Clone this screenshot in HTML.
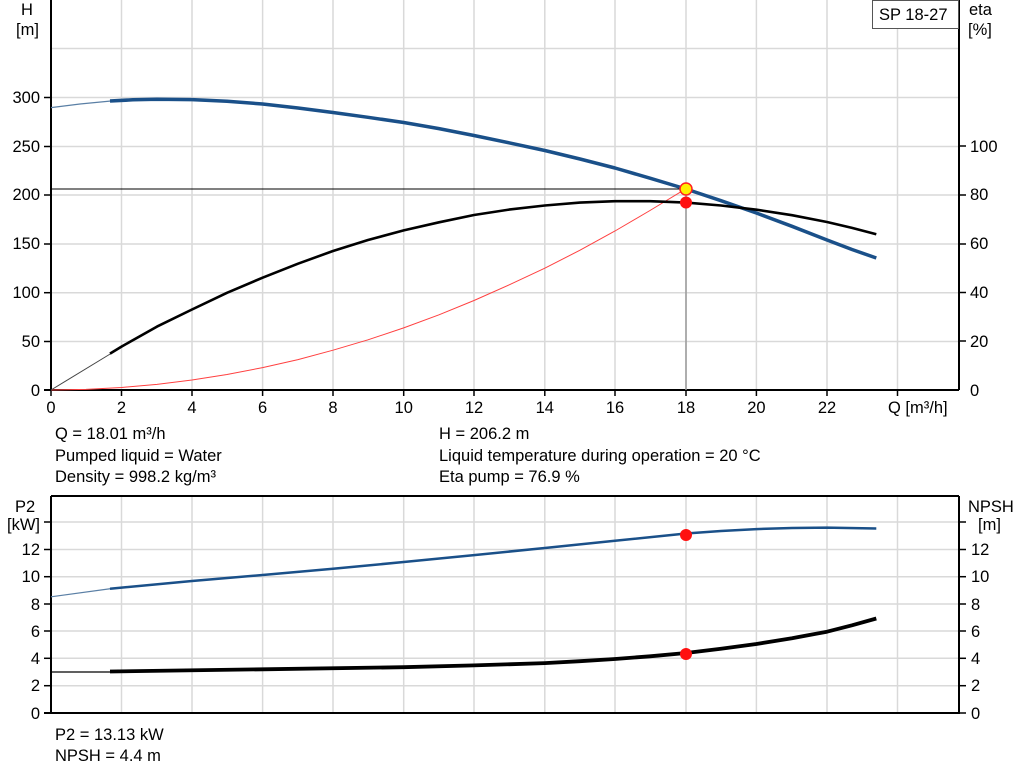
<!DOCTYPE html>
<html><head><meta charset="utf-8"><style>
html,body{margin:0;padding:0;background:#fff;}
svg{display:block;font-family:"Liberation Sans",Arial,sans-serif;}
text{font-size:16.5px;fill:#000;}
</style></head><body>
<svg width="1024" height="781" viewBox="0 0 1024 781" xmlns="http://www.w3.org/2000/svg">
<g stroke="#d9d9d9" stroke-width="1.5">
<line x1="121.5" y1="0" x2="121.5" y2="390"/><line x1="192" y1="0" x2="192" y2="390"/><line x1="262.6" y1="0" x2="262.6" y2="390"/><line x1="333" y1="0" x2="333" y2="390"/><line x1="403.7" y1="0" x2="403.7" y2="390"/><line x1="474" y1="0" x2="474" y2="390"/><line x1="544.8" y1="0" x2="544.8" y2="390"/><line x1="615" y1="0" x2="615" y2="390"/><line x1="686" y1="0" x2="686" y2="390"/><line x1="756.4" y1="0" x2="756.4" y2="390"/><line x1="827" y1="0" x2="827" y2="390"/><line x1="897.5" y1="0" x2="897.5" y2="390"/>
<line x1="51" y1="48.5" x2="959" y2="48.5"/><line x1="51" y1="97.5" x2="959" y2="97.5"/><line x1="51" y1="146.5" x2="959" y2="146.5"/><line x1="51" y1="195" x2="959" y2="195"/><line x1="51" y1="244" x2="959" y2="244"/><line x1="51" y1="292.7" x2="959" y2="292.7"/><line x1="51" y1="341.5" x2="959" y2="341.5"/>
<line x1="121.5" y1="496" x2="121.5" y2="713"/><line x1="192" y1="496" x2="192" y2="713"/><line x1="262.6" y1="496" x2="262.6" y2="713"/><line x1="333" y1="496" x2="333" y2="713"/><line x1="403.7" y1="496" x2="403.7" y2="713"/><line x1="474" y1="496" x2="474" y2="713"/><line x1="544.8" y1="496" x2="544.8" y2="713"/><line x1="615" y1="496" x2="615" y2="713"/><line x1="686" y1="496" x2="686" y2="713"/><line x1="756.4" y1="496" x2="756.4" y2="713"/><line x1="827" y1="496" x2="827" y2="713"/><line x1="897.5" y1="496" x2="897.5" y2="713"/>
<line x1="51" y1="522" x2="959" y2="522"/><line x1="51" y1="549.5" x2="959" y2="549.5"/><line x1="51" y1="576.7" x2="959" y2="576.7"/><line x1="51" y1="604" x2="959" y2="604"/><line x1="51" y1="631" x2="959" y2="631"/><line x1="51" y1="658.3" x2="959" y2="658.3"/><line x1="51" y1="685.7" x2="959" y2="685.7"/>
</g>
<g stroke="#000" stroke-width="2" fill="none">
<line x1="51" y1="0" x2="51" y2="390"/><line x1="959" y1="0" x2="959" y2="390"/><line x1="44" y1="390" x2="959" y2="390"/>
<line x1="51" y1="496" x2="51" y2="714"/><line x1="959" y1="496" x2="959" y2="714"/><line x1="44" y1="713" x2="959" y2="713"/><line x1="51" y1="496" x2="959" y2="496"/>
</g>
<g stroke="#000" stroke-width="1.5">
<line x1="44" y1="97.5" x2="51" y2="97.5"/><line x1="44" y1="146.5" x2="51" y2="146.5"/><line x1="44" y1="195" x2="51" y2="195"/><line x1="44" y1="244" x2="51" y2="244"/><line x1="44" y1="292.7" x2="51" y2="292.7"/><line x1="44" y1="341.5" x2="51" y2="341.5"/>
<line x1="959" y1="146" x2="966" y2="146"/><line x1="959" y1="195" x2="966" y2="195"/><line x1="959" y1="244" x2="966" y2="244"/><line x1="959" y1="292.5" x2="966" y2="292.5"/><line x1="959" y1="341" x2="966" y2="341"/>
<line x1="51" y1="390" x2="51" y2="396"/><line x1="121.5" y1="390" x2="121.5" y2="396"/><line x1="192" y1="390" x2="192" y2="396"/><line x1="262.6" y1="390" x2="262.6" y2="396"/><line x1="333" y1="390" x2="333" y2="396"/><line x1="403.7" y1="390" x2="403.7" y2="396"/><line x1="474" y1="390" x2="474" y2="396"/><line x1="544.8" y1="390" x2="544.8" y2="396"/><line x1="615" y1="390" x2="615" y2="396"/><line x1="686" y1="390" x2="686" y2="396"/><line x1="756.4" y1="390" x2="756.4" y2="396"/><line x1="827" y1="390" x2="827" y2="396"/><line x1="897.5" y1="390" x2="897.5" y2="396"/>
<line x1="44" y1="522" x2="51" y2="522"/><line x1="44" y1="549.5" x2="51" y2="549.5"/><line x1="44" y1="576.7" x2="51" y2="576.7"/><line x1="44" y1="604" x2="51" y2="604"/><line x1="44" y1="631" x2="51" y2="631"/><line x1="44" y1="658.3" x2="51" y2="658.3"/><line x1="44" y1="685.7" x2="51" y2="685.7"/>
<line x1="959" y1="522" x2="966" y2="522"/><line x1="959" y1="549.5" x2="966" y2="549.5"/><line x1="959" y1="576.7" x2="966" y2="576.7"/><line x1="959" y1="604" x2="966" y2="604"/><line x1="959" y1="631" x2="966" y2="631"/><line x1="959" y1="658.3" x2="966" y2="658.3"/><line x1="959" y1="685.7" x2="966" y2="685.7"/><line x1="959" y1="713" x2="966" y2="713"/>
</g>
<line x1="51" y1="189" x2="686" y2="189" stroke="#000" stroke-width="1"/>
<line x1="686" y1="189" x2="686" y2="390" stroke="#999" stroke-width="1.5"/>
<polyline fill="none" stroke="#ff4040" stroke-width="1" points="51,390 86,389.4 121.5,387.5 157,384.4 192,380 227,374.5 262.6,367.6 298,359.6 333,350.2 368,339.8 403.7,327.9 439,314.8 474,300.5 509,284.9 544.8,268.2 580,250.2 615,231 650,210.5 686,188.7"/>
<polyline fill="none" stroke="#5a7fa5" stroke-width="1.2" points="51,107.6 80,104 111,101"/>
<polyline fill="none" stroke="#1a5089" stroke-width="3.5" stroke-linejoin="round" points="110,101 133,99.8 156.8,99.2 192,99.6 227,101.3 262.6,104 298,108 333,112.5 368,117.3 403.7,122.5 439,128.6 474,135.5 509,142.8 544.8,150.5 580,159 615,168 650,178.2 686,189 721,200.7 756.4,213 792,226.3 827,240 852,249.5 876.3,258"/>
<polyline fill="none" stroke="#444" stroke-width="1" points="51,390 111,353.5"/>
<polyline fill="none" stroke="#000" stroke-width="2.6" stroke-linejoin="round" points="110,353.6 121.5,346.6 157,326.6 192,309.5 227,292.8 262.6,277.7 298,263.7 333,251 368,240 403.7,230.4 439,222.3 474,215 509,209.6 544.8,205.5 580,202.6 615,201.2 650,201.2 686,202.6 721,205.5 756.4,209.7 792,215.2 827,222 852,227.9 876.3,234.3"/>
<circle cx="686" cy="189" r="6" fill="#ffee00" stroke="#ff2020" stroke-width="1.5"/>
<circle cx="686" cy="202.5" r="6" fill="#ff1010"/>
<polyline fill="none" stroke="#5a7fa5" stroke-width="1.2" points="51,596.8 111,588.6"/>
<polyline fill="none" stroke="#1a5089" stroke-width="2.5" stroke-linejoin="round" points="110,588.7 192,581 262.6,575 333,568.8 403.7,562 474,555.1 544.8,548 615,540.8 686,533.5 721,531 756.4,529.1 792,528 827,527.6 876.3,528.5"/>
<polyline fill="none" stroke="#000" stroke-width="1.2" points="51,672 111,672"/>
<polyline fill="none" stroke="#000" stroke-width="3.8" stroke-linejoin="round" points="110,671.5 262.6,669.3 403.7,667.2 474,665.4 544.8,663.1 580,661.2 615,659 650,656.3 686,653 721,648.8 756.4,644 792,638.2 827,631.7 852,625.3 876.3,618.5"/>
<circle cx="686" cy="535" r="6" fill="#ff1010"/>
<circle cx="686" cy="654" r="6" fill="#ff1010"/>
<rect x="872.5" y="0.5" width="86" height="28" fill="#fff" stroke="#555" stroke-width="1"/>
<text x="879" y="20">SP 18-27</text>
<text x="21" y="15">H</text><text x="16" y="35">[m]</text>
<text x="969" y="15">eta</text><text x="968" y="35">[%]</text>
<g text-anchor="end">
<text x="40" y="103">300</text><text x="40" y="152">250</text><text x="40" y="200">200</text><text x="40" y="249">150</text><text x="40" y="298">100</text><text x="40" y="347">50</text><text x="40" y="396">0</text>
</g>
<text x="970" y="152">100</text><text x="970" y="200">80</text><text x="970" y="249">60</text><text x="970" y="298">40</text><text x="970" y="347">20</text><text x="970" y="396">0</text>
<g text-anchor="middle">
<text x="51" y="413">0</text><text x="121.5" y="413">2</text><text x="192" y="413">4</text><text x="262.6" y="413">6</text><text x="333" y="413">8</text><text x="403.7" y="413">10</text><text x="474" y="413">12</text><text x="544.8" y="413">14</text><text x="615" y="413">16</text><text x="686" y="413">18</text><text x="756.4" y="413">20</text><text x="827" y="413">22</text>
</g>
<text x="888" y="413">Q [m³/h]</text>
<text x="55" y="439">Q = 18.01 m³/h</text>
<text x="55" y="461">Pumped liquid = Water</text>
<text x="55" y="482">Density = 998.2 kg/m³</text>
<text x="439" y="439">H = 206.2 m</text>
<text x="439" y="461">Liquid temperature during operation = 20 °C</text>
<text x="439" y="482">Eta pump = 76.9 %</text>
<text x="15" y="512">P2</text><text x="7" y="530">[kW]</text>
<text x="968" y="512">NPSH</text><text x="978" y="530">[m]</text>
<g text-anchor="end">
<text x="40" y="555">12</text><text x="40" y="582">10</text><text x="40" y="610">8</text><text x="40" y="637">6</text><text x="40" y="664">4</text><text x="40" y="691">2</text><text x="40" y="719">0</text>
</g>
<text x="971" y="555">12</text><text x="971" y="582">10</text><text x="971" y="610">8</text><text x="971" y="637">6</text><text x="971" y="664">4</text><text x="971" y="691">2</text><text x="971" y="719">0</text>
<text x="55" y="740">P2 = 13.13 kW</text>
<text x="55" y="761">NPSH = 4.4 m</text>
</svg>
</body></html>
